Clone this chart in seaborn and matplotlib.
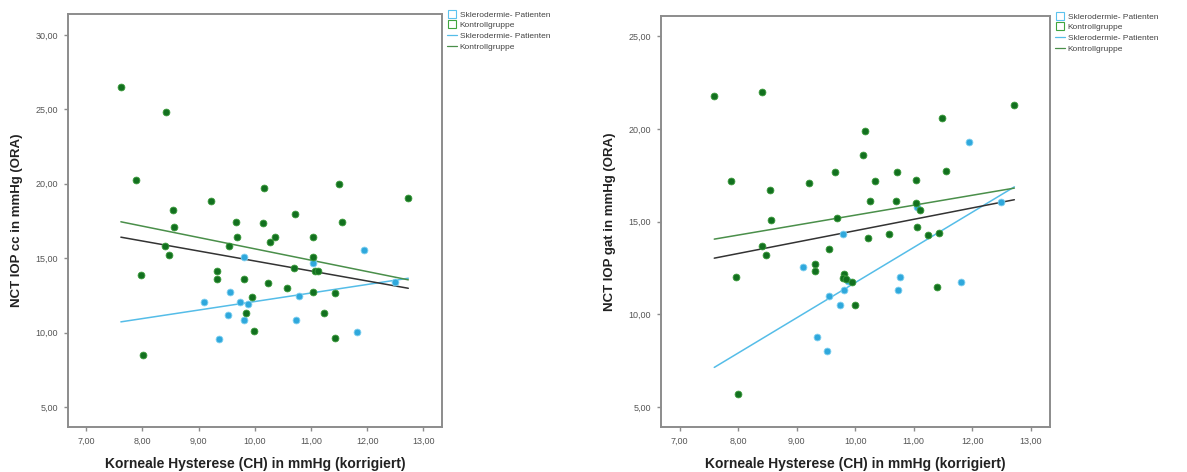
import numpy as np
import pandas as pd
import matplotlib
matplotlib.use("Agg")
import matplotlib.pyplot as plt
from matplotlib.lines import Line2D
from matplotlib.ticker import FuncFormatter
import seaborn as sns

# ---------------- data ----------------
group_labels = ["Sklerodermie- Patienten", "Kontrollgruppe"]
x_label = "Korneale Hysterese (CH) in mmHg (korrigiert)"
y_label_left = "NCT IOP cc in mmHg (ORA)"
y_label_right = "NCT IOP gat in mmHg (ORA)"

# left panel: IOPcc
left_pat_x = [9.81, 9.56, 9.10, 9.74, 9.88, 9.53, 9.81, 9.36, 11.04, 11.95, 12.50, 10.79, 10.74, 11.82]
left_pat_y = [15.06, 12.75, 12.04, 12.04, 11.90, 11.18, 10.85, 9.55, 14.65, 15.55, 13.42, 12.46, 10.85, 10.06]
left_ctl_x = [7.62, 8.42, 7.88, 9.22, 8.54, 10.17, 10.72, 9.66, 10.14, 8.57,
              11.49, 12.73, 11.55, 11.03, 9.68, 10.36, 10.27, 9.55, 8.41, 8.48,
              7.97, 9.33, 9.33, 9.81, 10.23, 9.95, 9.84, 9.99, 8.02, 11.04,
              11.07, 11.12, 10.70, 10.58, 11.04, 11.43, 11.24, 11.42]
left_ctl_y = [26.48, 24.80, 20.24, 18.84, 18.24, 19.70, 17.95, 17.43, 17.34, 17.12,
              19.97, 19.03, 17.43, 16.45, 16.45, 16.45, 16.05, 15.82, 15.82, 15.21,
              13.85, 14.16, 13.58, 13.58, 13.35, 12.37, 11.34, 10.13, 8.49, 15.06,
              14.14, 14.14, 14.36, 12.98, 12.75, 12.64, 11.34, 9.66]

# right panel: IOPg
right_pat_x = [9.79, 9.10, 9.80, 9.55, 9.74, 9.34, 9.51, 11.94, 12.50, 10.77, 10.73, 11.80, 9.88, 11.06]
right_pat_y = [14.33, 12.53, 11.29, 11.00, 10.51, 8.80, 8.01, 19.29, 16.04, 12.01, 11.32, 11.72, 11.80, 15.80]
right_ctl_x = [7.59, 8.40, 10.16, 10.13, 7.87, 9.21, 9.65, 10.34, 10.71, 8.54,
               10.25, 10.69, 8.56, 9.68, 10.22, 8.40, 8.48, 9.55, 7.96, 9.31,
               9.31, 9.81, 9.79, 9.84, 9.94, 10.00, 8.00, 12.72, 11.48, 11.55,
               11.04, 11.04, 11.10, 11.05, 11.24, 11.43, 10.57, 11.40]
right_ctl_y = [21.79, 22.01, 19.90, 18.60, 17.22, 17.11, 17.70, 17.22, 17.70, 16.71,
               16.10, 16.10, 15.09, 15.20, 14.10, 13.70, 13.22, 13.52, 12.04, 12.73,
               12.32, 12.19, 11.97, 11.90, 11.72, 10.51, 5.70, 21.31, 20.60, 17.72,
               17.23, 16.01, 15.65, 14.71, 14.28, 14.39, 14.33, 11.50]

x_ticks = [7, 8, 9, 10, 11, 12, 13]
left_y_ticks = [5, 10, 15, 20, 25, 30]
right_y_ticks = [5, 10, 15, 20, 25]

# ---------------- style ----------------
PAT_COLOR = "#2fa8dc"
CTL_COLOR = "#12701f"
PAT_LINE = "#55bde8"
CTL_LINE = "#4a8f4a"
TOT_LINE = "#333333"
FRAME = "#8c8c8c"

sns.set_theme(style="white")
plt.rcParams["font.family"] = ["Liberation Sans", "DejaVu Sans"]

fig = plt.figure(figsize=(11.87, 4.72), dpi=100)
ax_l = fig.add_axes([0.0573, 0.0953, 0.3151, 0.8750])
ax_r = fig.add_axes([0.5569, 0.0953, 0.3277, 0.8708])


def fit_df(x, y, xr):
    b, a = np.polyfit(np.asarray(x), np.asarray(y), 1)
    xs = np.array(xr)
    return pd.DataFrame({"x": xs, "y": a + b * xs})


def draw(ax, px, py, cx, cy, ylim, yticks, ylabel):
    df_p = pd.DataFrame({"x": px, "y": py})
    df_c = pd.DataFrame({"x": cx, "y": cy})
    allx = list(px) + list(cx)
    ally = list(py) + list(cy)
    xr = [min(allx), max(allx)]
    sns.lineplot(data=fit_df(px, py, xr), x="x", y="y", ax=ax, color=PAT_LINE, lw=1.1, zorder=2)
    sns.lineplot(data=fit_df(cx, cy, xr), x="x", y="y", ax=ax, color=CTL_LINE, lw=1.1, zorder=2)
    sns.lineplot(data=fit_df(allx, ally, xr), x="x", y="y", ax=ax, color=TOT_LINE, lw=1.1, zorder=2)
    sns.scatterplot(data=df_p, x="x", y="y", ax=ax, color=PAT_COLOR, s=24,
                    edgecolor="#7fd0f0", linewidth=0.6, zorder=3)
    sns.scatterplot(data=df_c, x="x", y="y", ax=ax, color=CTL_COLOR, s=24,
                    edgecolor="#3a9a3a", linewidth=0.6, zorder=4)
    ax.set_xlim(6.68, 13.33)
    ax.set_ylim(*ylim)
    ax.set_xticks(x_ticks)
    ax.set_yticks(yticks)
    fmt = FuncFormatter(lambda v, p: f"{v:.2f}".replace(".", ","))
    ax.xaxis.set_major_formatter(fmt)
    ax.yaxis.set_major_formatter(fmt)
    ax.tick_params(axis="both", which="major", direction="out", length=3, width=1,
                   color=FRAME, labelsize=6.5, labelcolor="#555555", pad=4,
                   bottom=True, left=True)
    for s in ax.spines.values():
        s.set_color(FRAME)
        s.set_linewidth(1.4)
        s.set_visible(True)
    ax.set_xlabel(x_label, fontsize=10, fontweight="bold", color="#222222", labelpad=8)
    ax.set_ylabel(ylabel, fontsize=9.5, fontweight="bold", color="#222222", labelpad=9)
    ax.grid(False)
    handles = [
        Line2D([], [], marker="s", ls="none", markerfacecolor="none",
               markeredgecolor="#5cc3ee", markersize=6, markeredgewidth=0.8),
        Line2D([], [], marker="s", ls="none", markerfacecolor="none",
               markeredgecolor="#3fa53f", markersize=6, markeredgewidth=0.8),
        Line2D([], [], color=PAT_LINE, lw=0.9),
        Line2D([], [], color=CTL_LINE, lw=0.9),
    ]
    labels = group_labels + group_labels
    ax.legend(handles, labels, loc="upper left", bbox_to_anchor=(1.0, 1.02),
              frameon=False, fontsize=6, handlelength=1.2, handletextpad=0.3,
              labelspacing=0.35, borderaxespad=0.2, labelcolor="#444444")


draw(ax_l, left_pat_x, left_pat_y, left_ctl_x, left_ctl_y, (3.65, 31.4), left_y_ticks, y_label_left)
draw(ax_r, right_pat_x, right_pat_y, right_ctl_x, right_ctl_y, (3.92, 26.1), right_y_ticks, y_label_right)

fig.savefig("out.png", dpi=100, facecolor="white")
